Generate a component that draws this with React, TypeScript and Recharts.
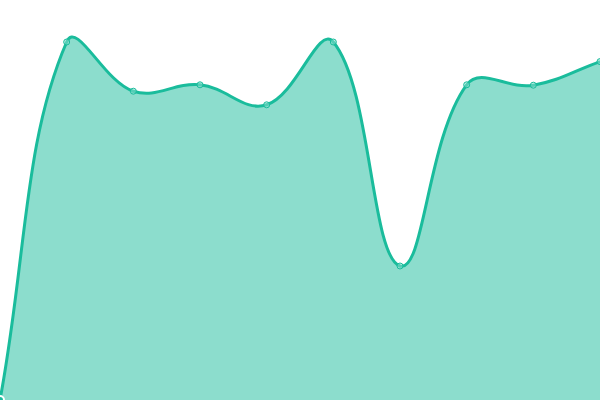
import { AreaChart, Area, XAxis, YAxis } from 'recharts'

const labels = ['A', 'B', 'C', 'D', 'E', 'F', 'G', 'H', 'I', 'J']
const values = [0, 89.5, 77.2, 78.8, 73.8, 89.5, 33.5, 78.8, 78.7, 84.6]

const data = labels.map((name, i) => ({ name, value: values[i] }))

// bezier spline with tension, control points capped to the plot box
const TENSION = 0.4
const BOX = { left: 0, right: 600, top: 0, bottom: 400 }

const cap = (v: number, lo: number, hi: number) => Math.max(lo, Math.min(hi, v))

function splineCurve(context: any) {
  let pts: number[][] = []
  let line = NaN
  return {
    areaStart() { line = 0 },
    areaEnd() { line = NaN },
    lineStart() { pts = [] },
    point(x: number, y: number) { pts.push([+x, +y]) },
    lineEnd() {
      const n = pts.length
      if (n) {
        if (line) context.lineTo(pts[0][0], pts[0][1])
        else context.moveTo(pts[0][0], pts[0][1])
        const cps = pts.map((cur, i) => {
          const prev = pts[i - 1] || cur
          const next = pts[i + 1] || cur
          const d01 = Math.hypot(cur[0] - prev[0], cur[1] - prev[1])
          const d12 = Math.hypot(next[0] - cur[0], next[1] - cur[1])
          let s01 = d01 / (d01 + d12)
          let s12 = d12 / (d01 + d12)
          if (isNaN(s01)) s01 = 0
          if (isNaN(s12)) s12 = 0
          const fa = TENSION * s01
          const fb = TENSION * s12
          const dx = next[0] - prev[0]
          const dy = next[1] - prev[1]
          return {
            inX: cap(cur[0] - fa * dx, BOX.left, BOX.right),
            inY: cap(cur[1] - fa * dy, BOX.top, BOX.bottom),
            outX: cap(cur[0] + fb * dx, BOX.left, BOX.right),
            outY: cap(cur[1] + fb * dy, BOX.top, BOX.bottom),
          }
        })
        for (let i = 1; i < n; i++) {
          context.bezierCurveTo(cps[i - 1].outX, cps[i - 1].outY, cps[i].inX, cps[i].inY, pts[i][0], pts[i][1])
        }
      }
      if (line || (line !== 0 && n === 1)) context.closePath()
      line = 1 - line
    },
  }
}

export default function App() {
  return (
    <div style={{ position: 'absolute', top: 0, left: 0, width: 600, height: 400, background: '#fff' }}>
      <AreaChart width={600} height={400} data={data} margin={{ top: 0, right: 0, left: 0, bottom: 0 }}>
        <XAxis dataKey="name" hide />
        <YAxis domain={[0, 100]} hide />
        <Area
          type={splineCurve as any}
          dataKey="value"
          stroke="#1abc9c"
          strokeWidth={3}
          fill="#1abc9c"
          fillOpacity={0.5}
          dot={{ r: 3, fill: '#8ee0cf', stroke: '#1abc9c', strokeWidth: 1 }}
          isAnimationActive={false}
        />
      </AreaChart>
    </div>
  )
}
